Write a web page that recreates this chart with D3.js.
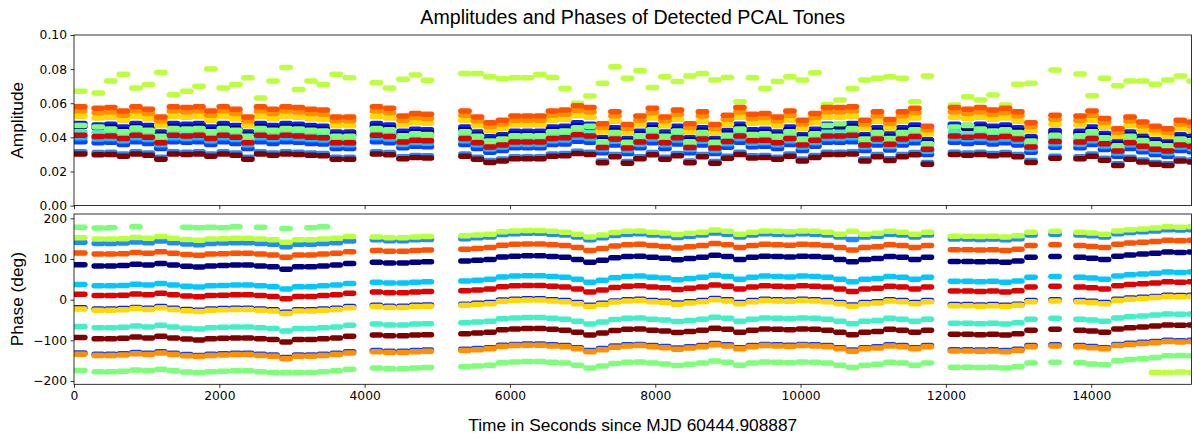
<!DOCTYPE html>
<html><head><meta charset="utf-8">
<script src="https://cdn.jsdelivr.net/npm/d3@7"></script>
<style>body{margin:0;background:#fff}svg{display:block}</style>
</head><body>
<svg id="chart" width="1192" height="439"></svg>
<script>
// ---- scans (seconds since MJD 60444.908887) ----
const scanStart = [0,277,449,622,796,966,1138,1312,1494,1663,1826,1998,2170,2335,2510,2682,2861,3033,3205,3374,3553,3735,
 4106,4285,4471,4643,4806,
 5324,5496,5668,5840,6012,6184,6356,6528,6700,6872,7044,7216,7388,7560,7732,7904,8076,8248,8420,8592,8764,8936,9108,9280,9452,9624,9796,9968,10140,10312,10484,10656,10828,11000,11172,11344,11516,11688,
 12061,12243,12417,12591,12763,12933,13114,
 13445,
 13789,13954,14126,14309,14477,14653,14825,14997,15169,15344];
const scanEnd = [150,391,563,736,910,1080,1252,1426,1608,1777,1940,2112,2284,2449,2624,2796,2975,3147,3319,3488,3667,3849,
 4220,4399,4585,4757,4920,
 5438,5610,5782,5954,6126,6298,6470,6642,6814,6986,7158,7330,7502,7674,7846,8018,8190,8362,8534,8706,8878,9050,9222,9394,9566,9738,9910,10082,10254,10426,10598,10770,10942,11114,11286,11458,11630,11802,
 12175,12357,12531,12705,12877,13047,13228,
 13559,
 13903,14068,14240,14423,14591,14767,14939,15111,15283,15458];

// ---- amplitudes per scan ----
const ampBlueA = [.0481,.0473,.0477,.0461,.0481,.0469,.0432,.0481,.0477,.0481,.0461,.0481,.0469,.0432,.0481,.0469,.0481,.0477,.0469,.0465,.0432,.0432,
 .0481,.0473,.0436,.0448,.0444,
 .0461,.0432,.0403,.0415,.0436,.0436,.0436,.0461,.0465,.0486,.0477,.0398,.0457,.0394,.0436,.0473,.0432,.0465,.0398,.0457,.0394,.044,.0477,.0444,.0448,.0432,.0461,.0415,.0448,.0477,.0477,.0481,.0415,.0457,.0419,.0457,.0473,.0386,
 .0477,.0469,.0477,.0465,.0473,.0457,.0403,
 .044,
 .0436,.0461,.0423,.0374,.0432,.0407,.0386,.0374,.0415,.0407];
const ampNavy = [.0464,.0456,.046,.0444,.0464,.0452,.0416,.0464,.046,.0464,.0444,.0464,.0452,.0416,.0464,.0452,.0464,.046,.0452,.0448,.0416,.0416,
 .0464,.0456,.042,.0432,.0428,
 .0444,.0416,.0388,.040,.042,.042,.042,.0444,.0448,.0468,.046,.0384,.044,.038,.042,.0456,.0416,.0448,.0384,.044,.038,.0424,.046,.0428,.0432,.0416,.0444,.040,.0432,.046,.046,.0464,.040,.044,.0404,.044,.0456,.0372,
 .046,.0452,.046,.0448,.0456,.044,.0388,
 .0424,
 .042,.0444,.0408,.036,.0416,.0392,.0372,.036,.040,.0392];
const ampBlueB = [.0374,.0368,.0371,.0358,.0374,.0364,.0335,.0374,.0371,.0374,.0358,.0374,.0364,.0335,.0374,.0364,.0374,.0371,.0364,.0361,.0335,.0335,
 .0374,.0368,.0339,.0348,.0345,
 .0358,.0335,.0313,.0323,.0339,.0339,.0339,.0358,.0361,.0377,.0371,.031,.0355,.0306,.0339,.0368,.0335,.0361,.031,.0355,.0306,.0342,.0371,.0345,.0348,.0335,.0358,.0323,.0348,.0371,.0371,.0374,.0323,.0355,.0326,.0355,.0368,.030,
 .0371,.0364,.0371,.0361,.0368,.0355,.0313,
 .0342,
 .0339,.0358,.0329,.029,.0335,.0316,.030,.029,.0323,.0316];
const ampDodgerBlue = [.0316,.0311,.0313,.0302,.0316,.0308,.0283,.0316,.0313,.0316,.0302,.0316,.0308,.0283,.0316,.0308,.0316,.0313,.0308,.0305,.0283,.0283,
 .0316,.0311,.0286,.0294,.0292,
 .0302,.0283,.0264,.0273,.0286,.0286,.0286,.0302,.0305,.0319,.0313,.0262,.030,.0259,.0286,.0311,.0283,.0305,.0262,.030,.0259,.0289,.0313,.0292,.0294,.0283,.0302,.0273,.0294,.0313,.0313,.0316,.0273,.030,.0275,.030,.0311,.0253,
 .0313,.0308,.0313,.0305,.0311,.030,.0264,
 .0289,
 .0286,.0302,.0278,.0245,.0283,.0267,.0253,.0245,.0273,.0267];
const ampDeepSkyBlue = [.0397,.039,.0394,.038,.0397,.0387,.0356,.0397,.0394,.0397,.038,.0397,.0387,.0356,.0397,.0387,.0397,.0394,.0387,.0384,.0356,.0356,
 .0397,.039,.036,.037,.0366,
 .038,.0356,.0332,.0343,.036,.036,.036,.038,.0384,.0401,.0394,.0329,.0377,.0325,.036,.039,.0356,.0384,.0329,.0377,.0325,.0363,.0394,.0366,.037,.0356,.038,.0343,.037,.0394,.0394,.0397,.0343,.0377,.0346,.0377,.039,.0319,
 .0394,.0387,.0394,.0384,.039,.0377,.0332,
 .0363,
 .036,.038,.0349,.0308,.0356,.0336,.0319,.0308,.0343,.0336];
const ampTurquoise = [.0432,.0425,.0428,.0413,.0432,.0421,.0387,.0432,.0428,.0432,.0413,.0432,.0421,.0387,.0432,.0421,.0432,.0428,.0421,.0417,.0387,.0387,
 .0432,.0425,.0391,.0402,.0399,
 .0413,.0387,.0361,.0373,.0391,.0391,.0391,.0413,.0417,.0436,.0428,.0358,.041,.0354,.0391,.0425,.0387,.0417,.0358,.041,.0354,.0395,.0428,.0399,.0402,.0387,.0413,.0373,.0402,.0428,.0428,.0432,.0373,.041,.0376,.041,.0425,.0346,
 .0428,.0421,.0428,.0417,.0425,.041,.0361,
 .0395,
 .0391,.0413,.038,.0335,.0387,.0365,.0346,.0335,.0373,.0365];
const ampLightGreen = [.047,.046,.0449,.0433,.0455,.0441,.0406,.0452,.0449,.0452,.0433,.0452,.0441,.0406,.0452,.0441,.0452,.0449,.0441,.0437,.0406,.0406,
 .0452,.0445,.041,.0421,.0417,
 .0433,.0406,.0378,.039,.041,.041,.041,.0433,.0437,.0456,.0465,.0374,.0429,.0371,.041,.0445,.0406,.0437,.0374,.0429,.0371,.0413,.0449,.0417,.0421,.0406,.0433,.039,.0421,.047,.048,.0452,.039,.0429,.0394,.0429,.0445,.0363,
 .046,.047,.0449,.0437,.0445,.0429,.0378,
 .0413,
 .041,.0433,.0398,.0351,.0406,.0382,.0363,.0351,.039,.0382];
const ampGreenYellow = [.067,.066,.073,.077,.069,.071,.078,.065,.067,.070,.080,.069,.071,.075,.063,.073,.081,.068,.073,.071,.077,.075,
 .072,.069,.074,.0765,.0735,
 .0775,.0774,.0756,.0743,.075,.075,.0769,.0751,.0687,.060,.0643,.0717,.0814,.0746,.0791,.0692,.0756,.0727,.076,.0775,.0736,.0751,.0609,.075,.0687,.0727,.0756,.0736,.0778,.0593,.0619,.0687,.0736,.0746,.0756,.0746,.0609,.076,
 .059,.0638,.0619,.0648,.059,.0711,.0717,
 .0795,
 .0771,.0644,.0746,.0703,.073,.073,.0711,.0736,.076,.073];
const ampYellow = [.0522,.0513,.0518,.050,.0522,.0509,.0468,.0522,.0518,.0522,.050,.0522,.0509,.0468,.0522,.0509,.0522,.0518,.0509,.0504,.0468,.0468,
 .0522,.0513,.0473,.0486,.0482,
 .050,.0468,.0437,.045,.0473,.0473,.0473,.050,.0504,.0527,.0518,.0432,.0495,.0428,.0473,.0513,.0468,.0504,.0432,.0495,.0428,.0477,.0518,.0482,.0486,.0468,.050,.045,.0486,.0518,.0518,.0522,.045,.0495,.0455,.0495,.0513,.0419,
 .0518,.0509,.0518,.0504,.0513,.0495,.0437,
 .0477,
 .0473,.050,.0459,.0405,.0468,.0441,.0419,.0405,.045,.0441];
const ampOrange = [.0554,.0544,.0549,.053,.0554,.054,.0497,.0554,.0549,.0554,.053,.0554,.054,.0497,.0554,.054,.0554,.0549,.054,.0535,.0497,.0497,
 .0554,.0544,.0501,.0516,.0511,
 .053,.0497,.0463,.0478,.0501,.0501,.0501,.053,.0535,.0559,.0549,.0458,.0525,.0454,.0501,.0544,.0497,.0535,.0458,.0525,.0454,.0506,.0549,.0511,.0516,.0497,.053,.0478,.0516,.0549,.0549,.0554,.0478,.0525,.0482,.0525,.0544,.0444,
 .0549,.054,.0549,.0535,.0544,.0525,.0463,
 .0506,
 .0501,.053,.0487,.043,.0497,.0468,.0444,.043,.0478,.0468];
const ampOrangeRed = [.058,.057,.0575,.0555,.058,.0565,.052,.058,.0575,.058,.0555,.058,.0565,.052,.058,.0565,.058,.0575,.0565,.056,.052,.052,
 .058,.057,.0525,.054,.0535,
 .0555,.052,.0485,.050,.0525,.0525,.0525,.0555,.056,.0585,.0575,.048,.055,.0475,.0525,.057,.052,.056,.048,.055,.0475,.053,.0575,.0535,.054,.052,.0555,.050,.054,.0575,.0575,.058,.050,.055,.0505,.055,.057,.0465,
 .0575,.0565,.0575,.056,.057,.055,.0485,
 .053,
 .0525,.0555,.051,.045,.052,.049,.0465,.045,.050,.049];
const ampRed = [.0412,.0405,.0408,.0394,.0412,.0401,.0369,.0412,.0408,.0412,.0394,.0412,.0401,.0369,.0412,.0401,.0412,.0408,.0401,.0398,.0369,.0369,
 .0412,.0405,.0373,.0383,.038,
 .0394,.0369,.0344,.0355,.0373,.0373,.0373,.0394,.0398,.0415,.0408,.0341,.0391,.0337,.0373,.0405,.0369,.0398,.0341,.0391,.0337,.0376,.0408,.038,.0383,.0369,.0394,.0355,.0383,.0408,.0408,.0412,.0355,.0391,.0359,.0391,.0405,.033,
 .0408,.0401,.0408,.0398,.0405,.0391,.0344,
 .0376,
 .0373,.0394,.0362,.032,.0369,.0348,.033,.032,.0355,.0348];
const ampDarkRed = [.0303,.0298,.030,.029,.0303,.0295,.0271,.0303,.030,.0303,.029,.0303,.0295,.0271,.0303,.0295,.0303,.030,.0295,.0292,.0271,.0271,
 .0303,.0298,.0274,.0282,.0279,
 .029,.0271,.0253,.0261,.0274,.0274,.0274,.029,.0292,.0305,.030,.0251,.0287,.0248,.0274,.0298,.0271,.0292,.0251,.0287,.0248,.0277,.030,.0279,.0282,.0271,.029,.0261,.0282,.030,.030,.0303,.0261,.0287,.0264,.0287,.0298,.0243,
 .030,.0295,.030,.0292,.0298,.0287,.0253,
 .0277,
 .0274,.029,.0266,.0235,.0271,.0256,.0243,.0235,.0261,.0256];

// ---- phases per scan (deg) ----
const phaseBlueA = [-20,-23,-23,-22,-19,-21,-17,-21,-24,-26,-23,-22,-21,-21,-23,-25,-31,-25,-25,-23,-21,-17,
 -14,-16,-16,-14,-13,
 -11,-9,-7,-1,1,2,2,0,-2,-7,-14,-9,-3,0,1,-2,-4,-8,-5,-2,3,0,-7,-2,1,0,-1,1,0,-2,-7,-13,-7,-5,0,-2,-7,-2,
 -12,-12,-13,-12,-14,-11,-2,
 0,
 -2,-4,-7,1,4,6,8,11,10,11];
const phaseNavy = [86,83,83,84,87,85,89,85,82,80,83,84,85,85,83,81,75,81,81,83,85,89,
 92,90,90,92,93,
 95,97,99,105,107,108,108,106,104,99,92,97,103,106,107,104,102,98,101,104,109,106,99,104,107,106,105,107,106,104,99,93,99,101,106,104,99,104,
 94,94,93,94,92,95,104,
 106,
 104,102,99,107,110,112,114,117,116,117];
const phaseBlueB = [-131,-134,-134,-133,-130,-132,-128,-132,-135,-137,-134,-133,-132,-132,-134,-136,-142,-136,-136,-134,-132,-128,
 -125,-127,-127,-125,-124,
 -122,-120,-118,-112,-110,-109,-109,-111,-113,-118,-125,-120,-114,-111,-110,-113,-115,-119,-116,-113,-108,-111,-118,-113,-110,-111,-112,-110,-111,-113,-118,-124,-118,-116,-111,-113,-118,-113,
 -123,-123,-124,-123,-125,-122,-113,
 -111,
 -113,-115,-118,-110,-107,-105,-103,-100,-101,-100];
const phaseDodgerBlue = [141,138,138,139,142,140,144,140,137,135,138,139,140,140,138,136,130,136,136,138,140,144,
 147,145,145,147,148,
 150,152,154,160,162,163,163,161,159,154,147,152,158,161,162,159,157,153,156,159,164,161,154,159,162,161,160,162,161,159,154,148,154,156,161,159,154,159,
 149,149,148,149,147,150,159,
 161,
 159,157,154,162,165,167,169,172,171,172];
const phaseDeepSkyBlue = [37,34,34,35,38,36,40,36,33,31,34,35,36,36,34,32,26,32,32,34,36,40,
 43,41,41,43,44,
 46,48,50,56,58,59,59,57,55,50,43,48,54,57,58,55,53,49,52,55,60,57,50,55,58,57,56,58,57,55,50,44,50,52,57,55,50,55,
 45,45,44,45,43,46,55,
 57,
 55,53,50,58,61,63,65,68,67,68];
const phaseTurquoise = [-66,-69,-69,-68,-65,-67,-63,-67,-70,-72,-69,-68,-67,-67,-69,-71,-77,-71,-71,-69,-67,-63,
 -60,-62,-62,-60,-59,
 -57,-55,-53,-47,-45,-44,-44,-46,-48,-53,-60,-55,-49,-46,-45,-48,-50,-54,-51,-48,-43,-46,-53,-48,-45,-46,-47,-45,-46,-48,-53,-59,-53,-51,-46,-48,-53,-48,
 -58,-58,-59,-58,-60,-57,-48,
 -46,
 -48,-50,-53,-45,-42,-40,-38,-35,-36,-35];
const phaseLightGreen = [-174,-177,-177,-176,-173,-175,-171,-175,-178,-180,-177,-176,-175,-175,-177,-179,-179,-179,-179,-177,-175,-171,
 -168,-170,-170,-168,-167,
 -165,-163,-161,-155,-153,-152,-152,-154,-156,-161,-168,-163,-157,-154,-153,-156,-158,-162,-159,-156,-151,-154,-161,-156,-153,-154,-155,-153,-154,-156,-161,-167,-161,-159,-154,-156,-161,-156,
 -166,-166,-167,-166,-168,-165,-156,
 -154,
 -155,-158,-160,-150,-147,-145,-142,-138,-137,-138];
const phaseGreenYellow = [152,149,149,150,153,151,155,151,148,146,149,150,151,151,149,147,141,147,147,149,151,155,
 154,152,152,154,155,
 157,159,161,167,169,170,170,168,166,161,154,159,165,168,169,166,164,160,163,166,171,168,161,166,169,168,167,169,168,166,161,168,161,163,168,166,161,166,
 156,156,155,156,154,157,166,
 168,
 166,164,161,169,172,174,176,179,178,179];
const phaseYellow = [-23,-26,-26,-25,-22,-24,-20,-24,-27,-29,-26,-25,-24,-24,-26,-28,-34,-28,-28,-26,-24,-20,
 -17,-19,-19,-17,-16,
 -14,-12,-10,-4,-2,-1,-1,-3,-5,-10,-17,-12,-6,-3,-2,-5,-7,-11,-8,-5,0,-3,-10,-5,-2,-3,-4,-2,-3,-5,-10,-16,-10,-8,-3,-5,-10,-5,
 -15,-15,-16,-15,-17,-14,-5,
 -3,
 -5,-7,-10,-2,1,3,5,8,7,8];
const phaseOrange = [-134,-137,-137,-136,-133,-135,-131,-135,-138,-140,-137,-136,-135,-135,-137,-139,-145,-139,-139,-137,-135,-131,
 -128,-130,-130,-128,-127,
 -125,-123,-121,-115,-113,-112,-112,-114,-116,-121,-128,-123,-117,-114,-113,-116,-118,-122,-119,-116,-111,-114,-121,-116,-113,-114,-115,-113,-114,-116,-121,-127,-121,-119,-114,-116,-121,-116,
 -126,-126,-127,-126,-128,-125,-116,
 -114,
 -116,-118,-121,-113,-110,-108,-106,-103,-104,-103];
const phaseOrangeRed = [115,112,112,113,116,114,118,114,111,109,112,113,114,114,112,110,104,110,110,112,114,118,
 121,119,119,121,122,
 124,126,128,134,136,137,137,135,133,128,121,126,132,135,136,133,131,127,130,133,138,135,128,133,136,135,134,136,135,133,128,122,128,130,135,133,128,133,
 123,123,122,123,121,124,133,
 135,
 133,131,128,136,139,141,143,146,145,146];
const phaseRed = [13,10,10,11,14,12,16,12,9,7,10,11,12,12,10,8,2,8,8,10,12,16,
 19,17,17,19,20,
 22,24,26,32,34,35,35,33,31,26,19,24,30,33,34,31,29,25,28,31,36,33,26,31,34,33,32,34,33,31,26,20,26,28,33,31,26,31,
 21,21,20,21,19,22,31,
 33,
 31,29,26,34,37,39,41,44,43,44];
const phaseDarkRed = [-93,-96,-96,-95,-92,-94,-90,-94,-97,-99,-96,-95,-94,-94,-96,-98,-104,-98,-98,-96,-94,-90,
 -87,-89,-89,-87,-86,
 -84,-82,-80,-74,-72,-71,-71,-73,-75,-80,-87,-82,-76,-73,-72,-75,-77,-81,-78,-75,-70,-73,-80,-75,-72,-73,-74,-72,-73,-75,-80,-86,-80,-78,-73,-75,-80,-75,
 -85,-85,-86,-85,-87,-84,-75,
 -73,
 -75,-77,-80,-72,-69,-67,-65,-62,-63,-62];
// points that wrapped across +/-180 deg: [scan index, phase]
const lightGreenWrapped = [[0,178],[1,176],[2,177],[4,179],[8,178],[9,177],[10,178],[11,177],[12,179],[14,178],[16,175],[18,177],[19,179]];
const greenYellowWrapped = [[79,-179],[80,-179],[81,-178],[82,-179]];

// ---- tones (draw order) ----
const toneNames  = ["blueA","navy","blueB","dodgerblue","deepskyblue","turquoise","lightgreen","greenyellow","yellow","orange","orangered","red","darkred"];
const toneColors = ["#0a1eff","#000080","#1040ff","#1e8cff","#00c8ff","#40f0c8","#7dff7a","#bcff3c","#ffd800","#ff9000","#ff5200","#e00000","#800000"];
const toneAmps   = [ampBlueA,ampNavy,ampBlueB,ampDodgerBlue,ampDeepSkyBlue,ampTurquoise,ampLightGreen,ampGreenYellow,ampYellow,ampOrange,ampOrangeRed,ampRed,ampDarkRed];
const tonePhases = [phaseBlueA,phaseNavy,phaseBlueB,phaseDodgerBlue,phaseDeepSkyBlue,phaseTurquoise,phaseLightGreen,phaseGreenYellow,phaseYellow,phaseOrange,phaseOrangeRed,phaseRed,phaseDarkRed];
const toneWrapped = {lightgreen: lightGreenWrapped, greenyellow: greenYellowWrapped};

// ---- axes ----
const timeDomain = [0, 15380];
const ampDomain = [0, 0.1];
const phaseDomain = [-208.1, 210.6];
const ampTicks = [0, 0.02, 0.04, 0.06, 0.08, 0.10];
const phaseTicks = [-200, -100, 0, 100, 200];
const timeTicks = [0, 2000, 4000, 6000, 8000, 10000, 12000, 14000];

const svg = d3.select("#chart");
const L = 74, R = 1191.5;
const topP = {y0: 35, y1: 205.6}, botP = {y0: 214, y1: 384.3};
const x = d3.scaleLinear().domain(timeDomain).range([L, R]);
const yA = d3.scaleLinear().domain(ampDomain).range([topP.y1, topP.y0]);
const yP = d3.scaleLinear().domain(phaseDomain).range([botP.y1, botP.y0]);

const defs = svg.append("defs");
[["clipTop", topP], ["clipBot", botP]].forEach(([id, p]) => {
  defs.append("clipPath").attr("id", id).append("rect")
    .attr("x", L).attr("y", p.y0).attr("width", R - L).attr("height", p.y1 - p.y0);
});

function drawSegments(layer, data, yScale, color) {
  layer.append("g").selectAll("line").data(data).join("line")
    .attr("x1", d => x(scanStart[d[0]])).attr("x2", d => x(scanEnd[d[0]]))
    .attr("y1", d => yScale(d[1])).attr("y2", d => yScale(d[1]))
    .attr("stroke", color).attr("stroke-width", 5.5).attr("stroke-linecap", "round");
}

const topLayer = svg.append("g").attr("clip-path", "url(#clipTop)");
const botLayer = svg.append("g").attr("clip-path", "url(#clipBot)");
toneNames.forEach((name, t) => {
  drawSegments(topLayer, toneAmps[t].map((v, i) => [i, v]), yA, toneColors[t]);
  drawSegments(botLayer, tonePhases[t].map((v, i) => [i, v]), yP, toneColors[t]);
  if (toneWrapped[name]) drawSegments(botLayer, toneWrapped[name], yP, toneColors[t]);
});

const tickFont = "DejaVu Sans, sans-serif";
function styleAxis(g) {
  g.select(".domain").remove();
  g.selectAll("line").attr("stroke", "#000").attr("stroke-width", 0.8);
  g.selectAll("text").attr("font-family", tickFont).attr("font-size", 12.3).attr("fill", "#000");
}
svg.append("g").attr("transform", `translate(${L},0)`)
  .call(d3.axisLeft(yA).tickValues(ampTicks).tickFormat(d3.format(".2f")).tickSize(3.5).tickPadding(3.5)).call(styleAxis);
svg.append("g").attr("transform", `translate(${L},0)`)
  .call(d3.axisLeft(yP).tickValues(phaseTicks).tickFormat(d3.format("d")).tickSize(3.5).tickPadding(3.5)).call(styleAxis);
svg.append("g").attr("transform", `translate(0,${topP.y1})`)
  .call(d3.axisBottom(x).tickValues(timeTicks).tickFormat("").tickSize(3.5)).call(styleAxis);
svg.append("g").attr("transform", `translate(0,${botP.y1})`)
  .call(d3.axisBottom(x).tickValues(timeTicks).tickFormat(d3.format("d")).tickSize(3.5).tickPadding(3.5)).call(styleAxis);

[topP, botP].forEach(p => {
  svg.append("rect").attr("x", L).attr("y", p.y0).attr("width", R - L).attr("height", p.y1 - p.y0)
    .attr("fill", "none").attr("stroke", "#000").attr("stroke-width", 0.8);
});

const labFont = "Liberation Sans, Arial, sans-serif";
svg.append("text").attr("x", (L + R) / 2).attr("y", 24).attr("text-anchor", "middle")
  .attr("font-family", labFont).attr("font-size", 19.6).text("Amplitudes and Phases of Detected PCAL Tones");
svg.append("text").attr("x", (L + R) / 2).attr("y", 431).attr("text-anchor", "middle")
  .attr("font-family", labFont).attr("font-size", 17.3).text("Time in Seconds since MJD 60444.908887");
svg.append("text").attr("transform", `translate(23,${(topP.y0 + topP.y1) / 2}) rotate(-90)`).attr("text-anchor", "middle")
  .attr("font-family", labFont).attr("font-size", 17.3).text("Amplitude");
svg.append("text").attr("transform", `translate(23,${(botP.y0 + botP.y1) / 2}) rotate(-90)`).attr("text-anchor", "middle")
  .attr("font-family", labFont).attr("font-size", 17.3).text("Phase (deg)");
</script>
</body></html>
